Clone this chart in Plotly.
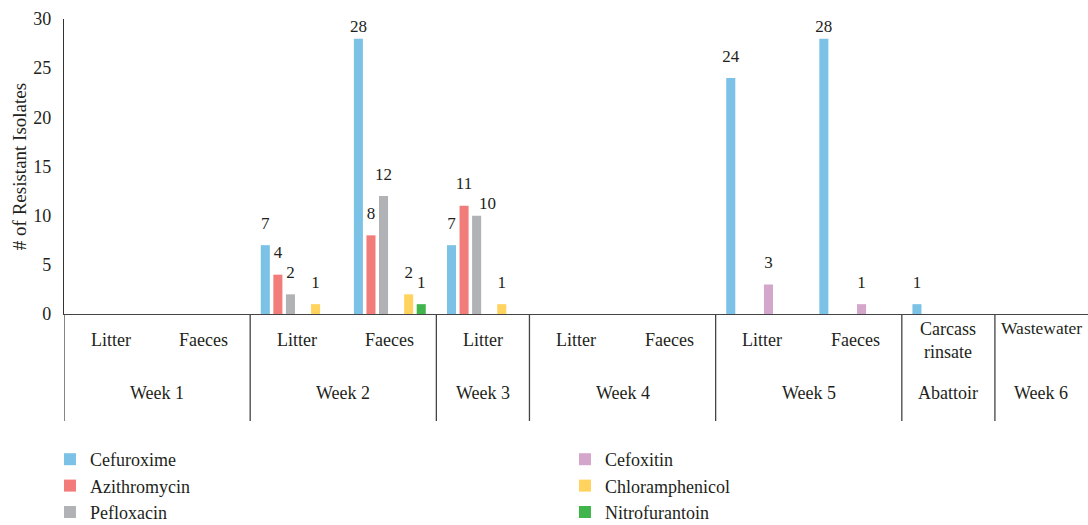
import plotly.graph_objects as go

# ---------------- data ----------------
groups = ["Week 1", "Week 2", "Week 3", "Week 4", "Week 5", "Abattoir", "Week 6"]
subcats = [["Litter", "Faeces"], ["Litter", "Faeces"], ["Litter"], ["Litter", "Faeces"],
           ["Litter", "Faeces"], ["Carcass<br>rinsate"], ["Wastewater"]]

series_names = ["Cefuroxime", "Azithromycin", "Pefloxacin", "Cefoxitin", "Chloramphenicol", "Nitrofurantoin"]
cefuroxime      = [0, 0, 7, 28, 7, 0, 0, 24, 28, 1, 0]
azithromycin    = [0, 0, 4, 8, 11, 0, 0, 0, 0, 0, 0]
pefloxacin      = [0, 0, 2, 12, 10, 0, 0, 0, 0, 0, 0]
cefoxitin       = [0, 0, 0, 0, 0, 0, 0, 3, 1, 0, 0]
chloramphenicol = [0, 0, 1, 2, 1, 0, 0, 0, 0, 0, 0]
nitrofurantoin  = [0, 0, 0, 1, 0, 0, 0, 0, 0, 0, 0]
values = [cefuroxime, azithromycin, pefloxacin, cefoxitin, chloramphenicol, nitrofurantoin]
colors = ["#7CC2E7", "#F27C7A", "#B1B2B6", "#D4A6CB", "#FFD35E", "#3FB54B"]
legend_rank = [1, 3, 5, 2, 4, 6]

FONT = "Liberation Serif"
TXT = "#231F20"

# label placement tweaks (style only): (series, category index) -> (textposition, spacer size)
DEFAULT_LABEL = ("top center", 18)
label_tweaks = {("Pefloxacin", 4): ("top right", 2),
                ("Cefuroxime", 3): ("top center", 3),
                ("Cefuroxime", 8): ("top center", 3)}

# categories (unique keys)
cats = []
for g, subs in zip(groups, subcats):
    for s in subs:
        cats.append(g + "|" + s)

fig = go.Figure()
for name, vals, col, rk in zip(series_names, values, colors, legend_rank):
    fig.add_trace(go.Bar(
        x=cats, y=vals, name=name, marker=dict(color=col, line=dict(width=0)),
        offsetgroup=name, alignmentgroup="a", legendrank=rk, hoverinfo="y+name"))
for name, vals in zip(series_names, values):
    tpos = [label_tweaks.get((name, i), DEFAULT_LABEL)[0] for i in range(len(vals))]
    msz = [label_tweaks.get((name, i), DEFAULT_LABEL)[1] for i in range(len(vals))]
    fig.add_trace(go.Scatter(
        x=cats, y=vals, mode="markers+text", text=[str(v) if v else "" for v in vals],
        textposition=tpos, textfont=dict(family=FONT, size=17, color=TXT),
        marker=dict(size=msz, opacity=0), offsetgroup=name, alignmentgroup="a",
        showlegend=False, hoverinfo="skip", cliponaxis=False))

plot_top, plot_bottom = 19, 314
ph = plot_bottom - plot_top

def py(px):
    return (plot_bottom - px) / ph

annotations = []
shapes = []
idx = 0
for g, subs in zip(groups, subcats):
    start = idx
    for s in subs:
        yshift = 12 if s == "Wastewater" else 0
        fsize = 17.5 if s == "Wastewater" else 18
        annotations.append(dict(x=idx, y=py(340), xref="x", yref="paper", text=s, showarrow=False,
                                yanchor="middle", yshift=yshift,
                                font=dict(family=FONT, size=fsize, color=TXT)))
        idx += 1
    annotations.append(dict(x=(start + idx - 1) / 2, y=py(393), xref="x", yref="paper", text=g,
                            showarrow=False, yanchor="middle",
                            font=dict(family=FONT, size=18, color=TXT)))
    shapes.append(dict(type="line", xref="x", yref="paper", x0=start - 0.5, x1=start - 0.5,
                       y0=0, y1=py(421), line=dict(color="#444444", width=1.3)))

fig.update_layout(
    width=1088, height=525,
    margin=dict(l=64, r=0, t=plot_top, b=525 - plot_bottom, autoexpand=False),
    paper_bgcolor="white", plot_bgcolor="white",
    barmode="group", bargap=0.19, bargroupgap=0.28,
    scattermode="group", scattergap=0.19,
    font=dict(family=FONT, size=18, color=TXT),
    showlegend=True,
    legend=dict(orientation="h", x=-0.0137, xanchor="left", y=py(441), yanchor="top",
                entrywidth=470, entrywidthmode="pixels", traceorder="normal",
                font=dict(family=FONT, size=18, color=TXT)),
    xaxis=dict(showticklabels=False, ticks="", showline=True, linecolor="#444444", linewidth=1.3,
               showgrid=False, zeroline=False, range=[-0.5, len(cats) - 0.5]),
    yaxis=dict(range=[0, 30], dtick=5, ticks="", showline=True, linecolor="#333333", linewidth=1.3,
               showgrid=False, zeroline=False, automargin=False, ticklabelstandoff=8,
               tickfont=dict(family=FONT, size=18, color=TXT),
               title=dict(text="# of Resistant Isolates", font=dict(family=FONT, size=19, color=TXT),
                          standoff=1)),
    annotations=annotations, shapes=shapes,
)

fig.write_html("out.html", config={"displayModeBar": False},
               post_script="document.body.style.margin='0';document.body.style.overflow='hidden';")
